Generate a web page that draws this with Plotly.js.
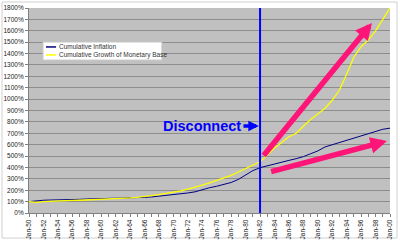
<!DOCTYPE html>
<html>
<head>
<meta charset="utf-8">
<script src="https://cdn.plot.ly/plotly-3.0.1.min.js"></script>
<style>html,body{margin:0;padding:0;background:#fff;}#chart{width:400px;height:245px;}</style>
</head>
<body>
<div id="chart"></div>
<script>
const years = [1950,1951,1952,1953,1954,1955,1956,1957,1958,1959,1960,1961,1962,1963,1964,1965,1966,1967,1968,1969,1970,1971,1972,1973,1974,1975,1976,1977,1978,1979,1980,1981,1982,1983,1984,1985,1986,1987,1988,1989,1990,1991,1992,1993,1994,1995,1996,1997,1998,1999,2000];
const inflation = [100,108,112,114,114,114,116,120,123,124,126,127,128,130,131,133,137,141,147,155,163,170,176,186,205,222,235,250,268,295,335,372,398,415,432,450,462,477,495,520,545,580,600,620,640,660,680,700,720,735,745];
const monetaryBase = [100,93,100,104,106,108,110,112,114,117,119,122,125,128,132,138,144,152,162,172,182,195,210,225,245,265,288,310,330,360,390,420,450,510,570,620,670,700,760,820,870,920,990,1080,1220,1370,1460,1520,1600,1700,1800];
const seriesNames = ["Cumulative Inflation", "Cumulative Growth of Monetary Base"];
const seriesColors = ["#000080", "#ffff00"];
const disconnectLabel = "Disconnect";
const disconnectDate = "1982-01-01";

const dates = years.map(y => y + "-01-01");

const traces = [
  {x: dates, y: inflation, name: seriesNames[0], type: "scatter", mode: "lines",
   line: {color: seriesColors[0], width: 1}},
  {x: dates, y: monetaryBase, name: seriesNames[1], type: "scatter", mode: "lines",
   line: {color: seriesColors[1], width: 1.3}}
];

// manual legend (paper coordinates)
const lgBox = {x0: 0.0388, x1: 0.368, y0: 0.746, y1: 0.834};
const lgRows = [0.810, 0.771];
const legendShapes = [
  {type: "rect", xref: "paper", yref: "paper", x0: lgBox.x0, x1: lgBox.x1, y0: lgBox.y0, y1: lgBox.y1,
   fillcolor: "#ffffff", line: {color: "#c8c8c8", width: 1}, layer: "above"}
].concat(lgRows.map((ry, i) => ({type: "line", xref: "paper", yref: "paper",
   x0: 0.047, x1: 0.075, y0: ry, y1: ry, line: {color: seriesColors[i], width: 1.5}, layer: "above"})));
const legendTexts = lgRows.map((ry, i) => ({xref: "paper", yref: "paper", x: 0.078, y: ry,
   xanchor: "left", yanchor: "middle", text: seriesNames[i], showarrow: false,
   font: {size: 6.5, color: "#333"}}));

const pink = "#ff1478";
const layout = {
  width: 400, height: 245,
  margin: {l: 29, r: 10, t: 8, b: 32},
  paper_bgcolor: "#ffffff",
  plot_bgcolor: "#c0c0c0",
  font: {family: "Liberation Sans, Arial, sans-serif", size: 7, color: "#000"},
  showlegend: false,
  xaxis: {
    type: "date", range: ["1950-01-01", "2000-01-01"],
    tick0: "1950-01-01", dtick: "M24", tickformat: "%b-%y",
    tickangle: -90, showgrid: false, zeroline: false,
    showline: true, linecolor: "#808080", linewidth: 1,
    ticks: "outside", ticklen: 3, tickcolor: "#808080",
    minor: {dtick: "M12", ticks: "outside", ticklen: 3, tickcolor: "#808080", showgrid: false},
    tickfont: {size: 6.5, color: "#222"}
  },
  yaxis: {
    range: [0, 1800], dtick: 100, ticksuffix: "%",
    showgrid: true, gridcolor: "#8c8c8c", gridwidth: 1, zeroline: false,
    showline: true, linecolor: "#808080", linewidth: 1,
    ticks: "outside", ticklen: 3, tickcolor: "#808080",
    tickfont: {size: 6.5, color: "#222"}
  },
  shapes: [
    {type: "line", xref: "x", yref: "paper", x0: disconnectDate, x1: disconnectDate, y0: 0, y1: 1,
     line: {color: "#0000ff", width: 2}},
    {type: "rect", xref: "paper", yref: "paper", x0: -27/361, x1: 1 + 7/361, y0: -25/205, y1: 1 + 6/205,
     line: {color: "#d0d0d0", width: 1}, fillcolor: "rgba(0,0,0,0)", layer: "below"}
  ].concat(legendShapes),
  annotations: [
    {x: "1974-01-01", y: 764, xref: "x", yref: "y", text: "<b>" + disconnectLabel + "</b>",
     showarrow: false, font: {size: 14.5, color: "#0000ff", family: "Liberation Sans, Arial, sans-serif"}},
    {x: "1981-11-01", y: 764, ax: "1979-07-01", ay: 764, xref: "x", yref: "y", axref: "x", ayref: "y",
     text: "", showarrow: true, arrowhead: 2, arrowsize: 0.6, arrowwidth: 3.5, arrowcolor: "#0000ff"},
    {x: "1997-07-01", y: 1668, ax: "1982-05-01", ay: 492, xref: "x", yref: "y", axref: "x", ayref: "y",
     text: "", showarrow: true, arrowhead: 2, arrowsize: 0.6, arrowwidth: 5.5, arrowcolor: pink},
    {x: "1999-08-01", y: 632, ax: "1983-05-01", ay: 360, xref: "x", yref: "y", axref: "x", ayref: "y",
     text: "", showarrow: true, arrowhead: 2, arrowsize: 0.6, arrowwidth: 5.5, arrowcolor: pink}
  ].concat(legendTexts)
};

Plotly.newPlot("chart", traces, layout, {displayModeBar: false, staticPlot: true});
</script>
</body>
</html>
